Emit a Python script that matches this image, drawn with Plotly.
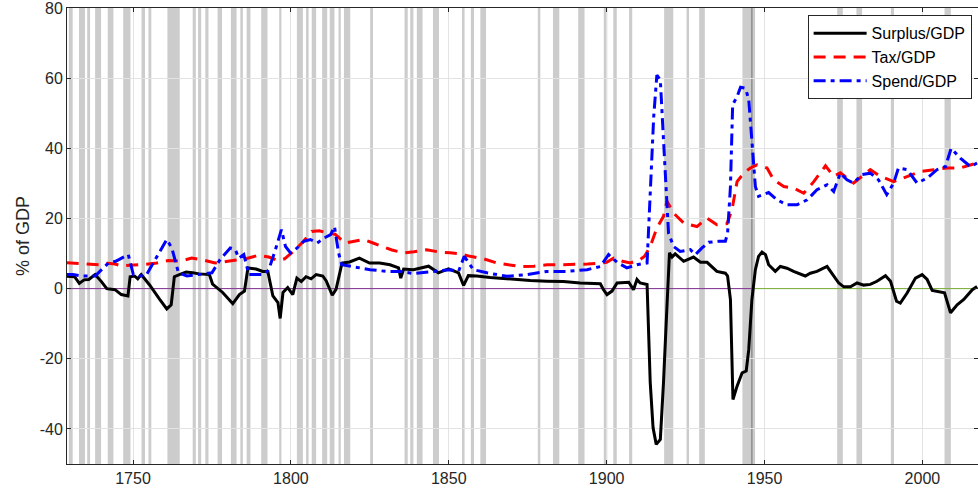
import plotly.graph_objects as go

# ---------------- data ----------------
surplus_years = [1729, 1731.5, 1733, 1734.5, 1736, 1738, 1740, 1741.7, 1744.3, 1746.3, 1748.4, 1749.1, 1750.5, 1751.5,
                 1752.6, 1755.2, 1758.4, 1760.7, 1762.1, 1763.1, 1764.7, 1766.8, 1768.9, 1771, 1774.2, 1775.2, 1778.4,
                 1781.6, 1783.7, 1785.3, 1786.4, 1789, 1791.1, 1792.7, 1794.3, 1795.9, 1796.6, 1797.5, 1799, 1800.6,
                 1801.9, 1803.3, 1804.8, 1806.4, 1808, 1810.1, 1811.2, 1813.1, 1814.3, 1816.2, 1818.6, 1821.7, 1824.9,
                 1828.1, 1831.4, 1834.1, 1834.8, 1835.7, 1838.8, 1843.6, 1846.7, 1849.9, 1853.1, 1854.7, 1856.2, 1858.9,
                 1863.1, 1868.4, 1875.8, 1881.1, 1886.3, 1891.6, 1898, 1899, 1900.1, 1901.7, 1903.3, 1907, 1908.5,
                 1909.6, 1910.6, 1912.8, 1913.3, 1913.8, 1914.7, 1915.7, 1917, 1918, 1919.1, 1919.9, 1920.7, 1921.7,
                 1924.4, 1927.5, 1929.7, 1931.8, 1934.9, 1937.6, 1938.3, 1939.2, 1940, 1941.3, 1942.9, 1944.2, 1945,
                 1946, 1947.1, 1948.1, 1949.2, 1950.3, 1951.3, 1953.4, 1955, 1957.1, 1959.2, 1962.9, 1964.5, 1966.6,
                 1969.8, 1971.4, 1973.5, 1975.1, 1977.2, 1979.3, 1981.4, 1983.5, 1985.6, 1988.3, 1989.9, 1991.8, 1993,
                 1995.2, 1997.8, 1999.9, 2001.5, 2003.1, 2005.2, 2007, 2008.9, 2011, 2013.1, 2015.8, 2017.3]
surplus_vals = [3.5, 3.4, 1.5, 2.5, 2.6, 4.0, 2.0, 0.0, -0.3, -1.7, -2.1, 3.4, 3.6, 2.8,
                4.0, 1.1, -3.0, -5.8, -4.6, 3.4, 4.0, 4.7, 4.5, 4.2, 4.0, 1.3, -1.1,
                -4.3, -1.7, -0.7, 5.9, 5.6, 4.9, 4.9, -2.1, -4.0, -8.5, -1.1, 0.3, -1.7,
                3.0, 2.0, 3.4, 2.8, 4.0, 3.6, 2.2, -1.9, -0.2, 7.3, 7.6, 8.7, 7.3,
                7.3, 6.8, 5.9, 3.0, 5.6, 5.4, 6.4, 4.5, 5.6, 4.5, 0.9, 3.7, 3.6,
                3.2, 2.8, 2.3, 2.1, 2.0, 1.6, 1.4, -0.3, -1.7, -0.7, 1.6, 1.8, -0.3,
                2.6, 1.6, 1.2, -12.6, -26.8, -39.7, -44.4, -43.0, -26.8, -5.0, 10.2, 9.0, 9.9,
                7.8, 9.0, 7.5, 7.5, 4.9, 4.4, 3.6, -3.1, -31.6, -27.8, -24.0, -23.5, -17.4,
                -3.1, 5.4, 9.2, 10.4, 9.7, 6.8, 4.9, 6.3, 5.8, 4.9, 3.6, 4.4, 4.9,
                6.3, 4.4, 1.6, 0.5, 0.5, 1.6, 1.0, 1.2, 2.1, 3.7, 2.1, -3.6, -4.1,
                -1.2, 3.0, 4.0, 2.6, -0.5, -0.8, -1.2, -6.9, -4.6, -3.1, -0.3, 0.6]

tax_years = [1729, 1731, 1734.3, 1737, 1739.5, 1742, 1744.3, 1746.4, 1750, 1753.8, 1757, 1761.2, 1765, 1768.6,
             1772, 1776, 1780, 1783.4, 1786, 1789.7, 1793, 1796, 1798, 1801.3, 1804, 1806.6, 1809, 1811.9, 1814,
             1817.2, 1820, 1823, 1826, 1829.3, 1832, 1835.6, 1839, 1843, 1846.5, 1850.4, 1853, 1856.8, 1861,
             1865.2, 1869, 1872.6, 1877, 1881.1, 1885, 1889.5, 1894, 1898, 1900, 1902.2, 1905, 1907.5, 1910.6,
             1912, 1913.8, 1915.9, 1918, 1919.1, 1921.2, 1924.4, 1928.6, 1931.8, 1934.9, 1938.1, 1939.7, 1941.3,
             1943.4, 1945.5, 1947.6, 1950.8, 1952.9, 1956.1, 1959.2, 1962.4, 1965.6, 1969.3, 1971.9, 1974,
             1978.2, 1983.5, 1986.7, 1990.9, 1995.2, 1999.4, 2003.6, 2007.8, 2012, 2017.3]
tax_vals = [7.4, 7.3, 7.0, 6.8, 6.8, 7.2, 7.0, 6.5, 6.6, 6.9, 7.2, 8.0, 7.8, 8.7,
            8.2, 7.3, 7.8, 8.3, 8.6, 9.5, 9.0, 8.0, 8.5, 11.0, 13.5, 16.3, 16.5, 15.8, 15.5,
            13.0, 13.5, 14.0, 13.0, 12.0, 11.0, 10.2, 10.5, 11.1, 10.5, 10.2, 10.0, 9.2, 8.5,
            7.3, 6.8, 6.3, 6.4, 6.8, 6.8, 6.8, 7.0, 7.3, 7.5, 8.7, 7.8, 7.3, 8.3,
            9.2, 12.0, 17.3, 20.6, 24.9, 21.5, 18.7, 17.7, 20.1, 18.2, 18.5, 22.5, 30.5,
            32.9, 34.4, 35.3, 34.4, 31.0, 29.1, 28.7, 27.2, 30.5, 35.0, 32.0, 33.0,
            30.1, 33.9, 32.0, 30.5, 32.0, 33.4, 33.9, 34.4, 34.4, 35.8]

spend_years = [1729, 1731, 1734, 1738, 1742.2, 1744.5, 1746.4, 1748.5, 1750.1, 1752.2, 1754.3, 1757.5, 1760.7,
               1762.3, 1764.4, 1767.1, 1771.3, 1775, 1777.6, 1780.8, 1782.4, 1783.5, 1785.1, 1786.7, 1791.4, 1793,
               1795.1, 1797, 1798.3, 1799.9, 1802, 1804.1, 1806.2, 1808.3, 1810.5, 1812.6, 1813.8, 1815.1, 1816.1,
               1819.8, 1825.1, 1830.4, 1834.6, 1838.8, 1842, 1846.2, 1850.4, 1853.1, 1854.9, 1857.8, 1862.1, 1868.4,
               1874.7, 1881.1, 1887.4, 1893.8, 1898, 1900.6, 1903.3, 1906.4, 1909.6, 1912.8, 1913.8, 1914.9, 1915.9,
               1917, 1918, 1919.6, 1921.2, 1923.3, 1926.5, 1928.1, 1930.2, 1932.3, 1935.5, 1937.6, 1938.3, 1939.2,
               1939.9, 1941.3, 1942.4, 1944, 1945, 1946, 1947.1, 1948.1, 1951.3, 1954, 1957.1, 1960.3, 1963.5,
               1966.6, 1969.8, 1971.9, 1974, 1976.1, 1978.2, 1980.8, 1983.5, 1986.1, 1988.7, 1990.9, 1992.4, 1995.2,
               1998.3, 2001.5, 2004.6, 2007.3, 2009.1, 2012, 2015.2, 2017.3]
spend_vals = [4.0, 4.0, 3.6, 3.6, 7.3, 7.8, 8.7, 9.7, 4.0, 3.6, 4.0, 9.2, 14.0,
              11.6, 4.5, 3.6, 4.0, 4.5, 8.3, 11.6, 11.1, 8.7, 9.7, 4.0, 4.0, 5.4,
              11.1, 16.8, 12.0, 10.2, 11.6, 13.5, 14.0, 13.0, 14.4, 15.4, 17.7, 10.2, 6.8,
              6.3, 5.4, 4.9, 4.9, 4.3, 4.6, 4.9, 5.4, 4.9, 9.2, 5.4, 4.5, 3.5,
              4.0, 4.9, 4.9, 5.4, 6.3, 9.7, 7.5, 5.9, 6.8, 7.3, 25.3, 49.0, 60.9,
              59.5, 42.4, 15.8, 12.0, 10.6, 11.1, 9.7, 11.6, 13.2, 13.5, 13.5, 15.8, 29.1,
              52.4, 54.7, 57.4, 57.1, 53.8, 41.5, 29.1, 26.3, 27.4, 25.3, 23.9, 23.9, 25.3,
              28.2, 29.6, 27.7, 32.9, 31.0, 30.1, 32.5, 32.9, 31.0, 26.8, 30.1, 34.4, 33.9,
              30.1, 31.5, 33.9, 34.8, 40.0, 37.2, 34.8, 35.8]

# shaded periods (start, end)
recession_start = [1729.7, 1732.9, 1735.5, 1738.0, 1742.0, 1746.9, 1752.7, 1754.9, 1760.9, 1768.9, 1770.6, 1772.9,
                   1776.8, 1781.0, 1784.0, 1786.0, 1790.6, 1796.3, 1801.9, 1804.8, 1806.6, 1809.9, 1812.3, 1815.1,
                   1816.8, 1825.1, 1836.0, 1837.8, 1839.9, 1845.0, 1854.2, 1857.0, 1860.0, 1878.2, 1883.0, 1891.0,
                   1899.1, 1902.1, 1907.1, 1918.2, 1925.3, 1929.3, 1943.0, 1973.0, 1979.1, 1990.0, 2007.0]
recession_end = [1730.9, 1734.8, 1736.4, 1739.9, 1743.8, 1749.2, 1753.8, 1755.8, 1764.8, 1769.9, 1771.6, 1773.9,
                 1778.2, 1782.8, 1784.8, 1787.2, 1792.6, 1797.0, 1803.8, 1805.6, 1808.0, 1811.5, 1813.8, 1815.8,
                 1818.8, 1826.0, 1837.0, 1838.8, 1841.7, 1846.9, 1855.0, 1858.0, 1861.8, 1879.0, 1885.0, 1893.0,
                 1900.2, 1903.2, 1908.1, 1921.1, 1926.1, 1931.1, 1947.0, 1974.8, 1980.9, 1991.0, 2009.0]

break_year = 1946
zero_before = [1729, break_year]
zero_after = [break_year, 2018]

x_ticks = [1750, 1800, 1850, 1900, 1950, 2000]
y_ticks = [-40, -20, 0, 20, 40, 60, 80]
y_tick_text = ["-40", "-20", "0", "20", "40", "60", "80"]

# ---------------- figure ----------------
FONT = "Liberation Sans"
AX = "#262626"

fig = go.Figure()

fig.add_trace(go.Scatter(x=zero_before, y=[0, 0], mode="lines", line=dict(color="#7E2F8E", width=1),
                         showlegend=False, hoverinfo="skip"))
fig.add_trace(go.Scatter(x=zero_after, y=[0, 0], mode="lines", line=dict(color="#77AC30", width=1),
                         showlegend=False, hoverinfo="skip"))

fig.add_trace(go.Scatter(x=surplus_years, y=surplus_vals, mode="lines", name="Surplus/GDP",
                         line=dict(color="#000000", width=3)))
fig.add_trace(go.Scatter(x=tax_years, y=tax_vals, mode="lines", name="Tax/GDP",
                         line=dict(color="#ff0000", width=3, dash="12px,8px")))
fig.add_trace(go.Scatter(x=spend_years, y=spend_vals, mode="lines", name="Spend/GDP",
                         line=dict(color="#0000ff", width=3, dash="12px,5px,4px,5px")))

shapes = []
for s, e in zip(recession_start, recession_end):
    shapes.append(dict(type="rect", xref="x", yref="paper", x0=s, x1=e, y0=0, y1=1,
                       fillcolor="#cccccc", line=dict(width=0), layer="below"))
shapes.append(dict(type="line", xref="x", yref="paper", x0=break_year, x1=break_year, y0=0, y1=1,
                   line=dict(color="#6e6e6e", width=1), layer="below"))

fig.update_layout(
    width=978, height=495,
    margin=dict(l=67, r=0, t=8, b=31, autoexpand=False),
    paper_bgcolor="white", plot_bgcolor="white",
    font=dict(family=FONT, size=16, color=AX),
    shapes=shapes,
    showlegend=True,
    legend=dict(x=0.993, y=0.984, xanchor="right", yanchor="top",
                bgcolor="white", bordercolor=AX, borderwidth=1,
                font=dict(family=FONT, size=16, color="#000000"),
                tracegroupgap=0, itemwidth=53),
    xaxis=dict(range=[1729.1, 2017.6], tickvals=x_ticks, showgrid=True, gridcolor="#e3e3e3", gridwidth=1,
               showline=True, linecolor=AX, linewidth=1, mirror="ticks", ticks="inside", ticklen=4,
               tickcolor=AX, zeroline=False, tickfont=dict(size=16, color=AX), automargin=False,
               ticklabeloverflow="allow"),
    yaxis=dict(range=[-50, 80], tickvals=y_ticks, ticktext=y_tick_text, showgrid=True, gridcolor="#e3e3e3",
               gridwidth=1, showline=True, linecolor=AX, linewidth=1, mirror="ticks", ticks="inside",
               ticklen=4, tickcolor=AX, zeroline=False, tickfont=dict(size=16, color=AX), automargin=False,
               ticklabeloverflow="allow",
               title=dict(text="% of GDP", font=dict(size=18, color=AX), standoff=5)),
)

fig.write_html("out.html", config={"displayModeBar": False},
               post_script="document.body.style.margin='0';document.body.style.overflow='hidden';")
